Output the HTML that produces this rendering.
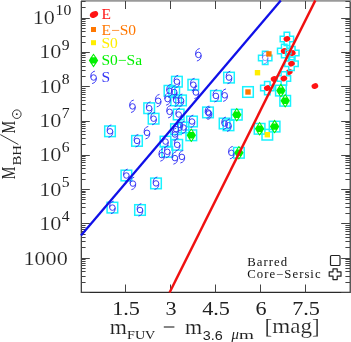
<!DOCTYPE html><html><head><meta charset="utf-8"><style>html,body{margin:0;padding:0;background:#fff}svg{display:block;will-change:transform}</style></head><body>
<svg width="351" height="342" viewBox="0 0 351 342">
<defs>
<g id="sp"><path d="M1.3 -6.4Q-3.4 -5.3 -2.75 0A2.75 2.75 0 1 0 2.75 0A2.75 2.75 0 1 0 -2.75 0M2.75 0.2Q3.1 4.9 -1.5 6.1" fill="none" stroke="#3333f5" stroke-width="0.95"/></g>
<g id="bx"><rect x="-5.3" y="-5.3" width="10.6" height="10.6" fill="none" stroke="#18f2ff" stroke-width="1.5"/></g>
<g id="cr"><path d="M-2.75 -6.7V-2.75H-6.7V2.75H-2.75V6.7H2.75V2.75H6.7V-2.75H2.75V-6.7Z" fill="none" stroke="#18f2ff" stroke-width="1.5"/></g>
<g id="re"><ellipse rx="3.4" ry="2.8" transform="rotate(-20)" fill="#ff1414"/></g>
<g id="os"><rect x="-2.7" y="-2.7" width="5.4" height="5.4" fill="#ff7700"/></g>
<g id="ys"><rect x="-2.7" y="-2.7" width="5.4" height="5.4" fill="#ffee00"/></g>
<g id="gs"><path d="M0 -7L3.2 -2.4L-3.2 -2.4Z M0 7L-3.2 2.4L3.2 2.4Z M-4.7 0L-2.6 -3.3L2.6 -3.3L4.7 0L2.6 3.3L-2.6 3.3Z" fill="#00f000"/><path d="M0 -5.2L1.35 -3.2L-1.35 -3.2Z M0 5.2L1.35 3.2L-1.35 3.2Z" fill="#fff"/></g>
</defs>
<path d="M81.3 0.9V292.4H350.2V0.9" fill="none" stroke="#2a2a2a" stroke-width="1.15"/>
<line x1="81" y1="0.9" x2="351" y2="0.9" stroke="#9a9a9a" stroke-width="1.6"/>
<path d="M81 292.50h8.8M350 292.50h-8.8M81 282.50h4.6M350 282.50h-4.6M81 276.50h4.6M350 276.50h-4.6M81 271.50h4.6M350 271.50h-4.6M81 268.50h4.6M350 268.50h-4.6M81 265.50h4.6M350 265.50h-4.6M81 263.50h4.6M350 263.50h-4.6M81 261.50h4.6M350 261.50h-4.6M81 259.50h4.6M350 259.50h-4.6M81 258.50h8.8M350 258.50h-8.8M81 247.50h4.6M350 247.50h-4.6M81 241.50h4.6M350 241.50h-4.6M81 237.50h4.6M350 237.50h-4.6M81 234.50h4.6M350 234.50h-4.6M81 231.50h4.6M350 231.50h-4.6M81 229.50h4.6M350 229.50h-4.6M81 227.50h4.6M350 227.50h-4.6M81 225.50h4.6M350 225.50h-4.6M81 223.50h8.8M350 223.50h-8.8M81 213.50h4.6M350 213.50h-4.6M81 207.50h4.6M350 207.50h-4.6M81 203.50h4.6M350 203.50h-4.6M81 199.50h4.6M350 199.50h-4.6M81 197.50h4.6M350 197.50h-4.6M81 194.50h4.6M350 194.50h-4.6M81 192.50h4.6M350 192.50h-4.6M81 191.50h4.6M350 191.50h-4.6M81 189.50h8.8M350 189.50h-8.8M81 179.50h4.6M350 179.50h-4.6M81 173.50h4.6M350 173.50h-4.6M81 168.50h4.6M350 168.50h-4.6M81 165.50h4.6M350 165.50h-4.6M81 162.50h4.6M350 162.50h-4.6M81 160.50h4.6M350 160.50h-4.6M81 158.50h4.6M350 158.50h-4.6M81 156.50h4.6M350 156.50h-4.6M81 155.50h8.8M350 155.50h-8.8M81 144.50h4.6M350 144.50h-4.6M81 138.50h4.6M350 138.50h-4.6M81 134.50h4.6M350 134.50h-4.6M81 131.50h4.6M350 131.50h-4.6M81 128.50h4.6M350 128.50h-4.6M81 126.50h4.6M350 126.50h-4.6M81 124.50h4.6M350 124.50h-4.6M81 122.50h4.6M350 122.50h-4.6M81 121.50h8.8M350 121.50h-8.8M81 110.50h4.6M350 110.50h-4.6M81 104.50h4.6M350 104.50h-4.6M81 100.50h4.6M350 100.50h-4.6M81 97.50h4.6M350 97.50h-4.6M81 94.50h4.6M350 94.50h-4.6M81 92.50h4.6M350 92.50h-4.6M81 90.50h4.6M350 90.50h-4.6M81 88.50h4.6M350 88.50h-4.6M81 86.50h8.8M350 86.50h-8.8M81 76.50h4.6M350 76.50h-4.6M81 70.50h4.6M350 70.50h-4.6M81 66.50h4.6M350 66.50h-4.6M81 62.50h4.6M350 62.50h-4.6M81 60.50h4.6M350 60.50h-4.6M81 57.50h4.6M350 57.50h-4.6M81 55.50h4.6M350 55.50h-4.6M81 53.50h4.6M350 53.50h-4.6M81 52.50h8.8M350 52.50h-8.8M81 42.50h4.6M350 42.50h-4.6M81 36.50h4.6M350 36.50h-4.6M81 31.50h4.6M350 31.50h-4.6M81 28.50h4.6M350 28.50h-4.6M81 25.50h4.6M350 25.50h-4.6M81 23.50h4.6M350 23.50h-4.6M81 21.50h4.6M350 21.50h-4.6M81 19.50h4.6M350 19.50h-4.6M81 18.50h8.8M350 18.50h-8.8M81 7.50h4.6M350 7.50h-4.6M81 1.50h4.6M350 1.50h-4.6M125.50 292.5v-8M125.50 1v8M170.50 292.5v-8M170.50 1v8M215.50 292.5v-8M215.50 1v8M260.50 292.5v-8M260.50 1v8M305.50 292.5v-8M305.50 1v8" stroke="#444" stroke-width="1" fill="none"/>
<text transform="translate(39.20,229.80) scale(1.17,1)" font-family="Liberation Serif, serif" font-size="19" fill="#222" stroke="#fff" stroke-width="0.18" >10</text>
<text transform="translate(61.80,221.00) scale(1.12,1)" font-family="Liberation Serif, serif" font-size="14" fill="#222"  >4</text>
<text transform="translate(39.20,195.50) scale(1.17,1)" font-family="Liberation Serif, serif" font-size="19" fill="#222" stroke="#fff" stroke-width="0.18" >10</text>
<text transform="translate(61.80,186.70) scale(1.12,1)" font-family="Liberation Serif, serif" font-size="14" fill="#222"  >5</text>
<text transform="translate(39.20,161.20) scale(1.17,1)" font-family="Liberation Serif, serif" font-size="19" fill="#222" stroke="#fff" stroke-width="0.18" >10</text>
<text transform="translate(61.80,152.40) scale(1.12,1)" font-family="Liberation Serif, serif" font-size="14" fill="#222"  >6</text>
<text transform="translate(39.20,126.90) scale(1.17,1)" font-family="Liberation Serif, serif" font-size="19" fill="#222" stroke="#fff" stroke-width="0.18" >10</text>
<text transform="translate(61.80,118.10) scale(1.12,1)" font-family="Liberation Serif, serif" font-size="14" fill="#222"  >7</text>
<text transform="translate(39.20,92.60) scale(1.17,1)" font-family="Liberation Serif, serif" font-size="19" fill="#222" stroke="#fff" stroke-width="0.18" >10</text>
<text transform="translate(61.80,83.80) scale(1.12,1)" font-family="Liberation Serif, serif" font-size="14" fill="#222"  >8</text>
<text transform="translate(39.20,58.30) scale(1.17,1)" font-family="Liberation Serif, serif" font-size="19" fill="#222" stroke="#fff" stroke-width="0.18" >10</text>
<text transform="translate(61.80,49.50) scale(1.12,1)" font-family="Liberation Serif, serif" font-size="14" fill="#222"  >9</text>
<text transform="translate(32.70,24.00) scale(1.17,1)" font-family="Liberation Serif, serif" font-size="19" fill="#222" stroke="#fff" stroke-width="0.18" >10</text>
<text transform="translate(55.60,14.90) scale(1.12,1)" font-family="Liberation Serif, serif" font-size="14" fill="#222"  >10</text>
<text transform="translate(23.40,264.50) scale(1.17,1)" font-family="Liberation Serif, serif" font-size="19" fill="#222" stroke="#fff" stroke-width="0.18" >1000</text>
<text transform="translate(126.00,314.7) scale(1.17,1)" font-family="Liberation Serif, serif" font-size="19" text-anchor="middle" fill="#222">1.5</text>
<text transform="translate(171.00,314.7) scale(1.17,1)" font-family="Liberation Serif, serif" font-size="19" text-anchor="middle" fill="#222">3</text>
<text transform="translate(216.00,314.7) scale(1.17,1)" font-family="Liberation Serif, serif" font-size="19" text-anchor="middle" fill="#222">4.5</text>
<text transform="translate(261.00,314.7) scale(1.17,1)" font-family="Liberation Serif, serif" font-size="19" text-anchor="middle" fill="#222">6</text>
<text transform="translate(306.00,314.7) scale(1.17,1)" font-family="Liberation Serif, serif" font-size="19" text-anchor="middle" fill="#222">7.5</text>
<use href="#bx" x="149.2" y="108.2"/>
<use href="#bx" x="153.6" y="118.7"/>
<use href="#bx" x="110" y="131.3"/>
<use href="#bx" x="137" y="140.9"/>
<use href="#bx" x="176.9" y="81.7"/>
<use href="#bx" x="193.3" y="84.7"/>
<use href="#bx" x="169.5" y="90.8"/>
<use href="#bx" x="174.2" y="92"/>
<use href="#bx" x="176.2" y="100.4"/>
<use href="#bx" x="181" y="100.4"/>
<use href="#bx" x="178.7" y="114.5"/>
<use href="#bx" x="229" y="77.6"/>
<use href="#bx" x="215.9" y="95.9"/>
<use href="#bx" x="208" y="112.4"/>
<use href="#bx" x="224.6" y="123.5"/>
<use href="#bx" x="228.5" y="125.3"/>
<use href="#bx" x="165.5" y="141.6"/>
<use href="#bx" x="177.2" y="144.8"/>
<use href="#bx" x="167.3" y="151.8"/>
<use href="#bx" x="156" y="183.4"/>
<use href="#bx" x="126.4" y="175.5"/>
<use href="#bx" x="112.4" y="207.6"/>
<use href="#bx" x="140" y="210"/>
<use href="#bx" x="192" y="121.5"/>
<use href="#bx" x="183.5" y="127.5"/>
<use href="#bx" x="176" y="129.2"/>
<use href="#cr" x="265.2" y="57.9"/>
<use href="#bx" x="280.9" y="90.6"/>
<use href="#bx" x="285.2" y="100.8"/>
<use href="#bx" x="259.6" y="128.8"/>
<use href="#bx" x="274.6" y="126.6"/>
<use href="#bx" x="236.8" y="114.7"/>
<use href="#bx" x="238.9" y="152.8"/>
<use href="#bx" x="191.3" y="135.3"/>
<use href="#bx" x="248" y="92"/>
<use href="#bx" x="267.3" y="134.7"/>
<use href="#sp" x="132.5" y="106.4"/>
<use href="#sp" x="149.2" y="108.2"/>
<use href="#sp" x="158.2" y="100.8"/>
<use href="#sp" x="153.6" y="118.7"/>
<use href="#sp" x="110" y="131.3"/>
<use href="#sp" x="147" y="132.8"/>
<use href="#sp" x="137" y="140.9"/>
<use href="#sp" x="198.4" y="54.9"/>
<use href="#sp" x="176.9" y="81.7"/>
<use href="#sp" x="193.3" y="84.7"/>
<use href="#sp" x="195.9" y="92.5"/>
<use href="#sp" x="169.5" y="90.8"/>
<use href="#sp" x="174.2" y="92"/>
<use href="#sp" x="167.6" y="99.1"/>
<use href="#sp" x="176.2" y="100.4"/>
<use href="#sp" x="181" y="100.4"/>
<use href="#sp" x="169.6" y="111.8"/>
<use href="#sp" x="178.7" y="114.5"/>
<use href="#sp" x="229" y="77.6"/>
<use href="#sp" x="215.9" y="95.9"/>
<use href="#sp" x="224.7" y="95.3"/>
<use href="#sp" x="208" y="112.4"/>
<use href="#sp" x="209" y="113.4"/>
<use href="#sp" x="224.6" y="123.5"/>
<use href="#sp" x="228.5" y="125.3"/>
<use href="#sp" x="231.4" y="152.8"/>
<use href="#sp" x="165.5" y="141.6"/>
<use href="#sp" x="177.2" y="144.8"/>
<use href="#sp" x="161.8" y="155.1"/>
<use href="#sp" x="167.3" y="151.8"/>
<use href="#sp" x="174.9" y="158.1"/>
<use href="#sp" x="181.9" y="156.9"/>
<use href="#sp" x="156" y="183.4"/>
<use href="#sp" x="126.4" y="175.5"/>
<use href="#sp" x="132.9" y="183.6"/>
<use href="#sp" x="112.4" y="207.6"/>
<use href="#sp" x="140" y="210"/>
<use href="#sp" x="192" y="121.5"/>
<use href="#sp" x="183.5" y="127.5"/>
<use href="#sp" x="176" y="129.2"/>
<use href="#sp" x="180" y="125"/>
<use href="#sp" x="175" y="134.5"/>
<use href="#sp" x="265.2" y="57.9" opacity="0.55"/>
<use href="#re" x="286.9" y="38.9"/>
<use href="#re" x="284.2" y="51"/>
<use href="#re" x="292.3" y="53.1"/>
<use href="#re" x="291.5" y="63.7"/>
<use href="#re" x="289.3" y="72"/>
<use href="#re" x="274.1" y="78.9"/>
<use href="#re" x="283.9" y="78.5"/>
<use href="#re" x="267.3" y="88.1"/>
<use href="#re" x="314.9" y="86.1"/>
<use href="#cr" x="286.9" y="38.9"/>
<use href="#cr" x="284.2" y="51"/>
<use href="#cr" x="292.3" y="53.1"/>
<use href="#cr" x="291.5" y="63.7"/>
<use href="#cr" x="283.9" y="78.5"/>
<use href="#cr" x="267.3" y="88.1"/>
<use href="#gs" x="280.9" y="90.6"/>
<use href="#gs" x="285.2" y="100.8"/>
<use href="#gs" x="259.6" y="128.8"/>
<use href="#gs" x="274.6" y="126.6"/>
<use href="#gs" x="236.8" y="114.7"/>
<use href="#gs" x="238.9" y="152.8"/>
<use href="#gs" x="191.3" y="135.3"/>
<use href="#os" x="268.9" y="53.9"/><use href="#os" x="248" y="92"/>
<use href="#ys" x="257.5" y="72.7"/><use href="#ys" x="267.3" y="134.7"/>
<line x1="81" y1="235.6" x2="280.8" y2="0.5" stroke="#1010e8" stroke-width="2.3"/>
<line x1="169.6" y1="292.5" x2="315.3" y2="0.5" stroke="#f01010" stroke-width="2.5"/>
<ellipse cx="94" cy="14.5" rx="4.4" ry="3" transform="rotate(-28 94 14.5)" fill="#ff1414"/>
<rect x="91" y="27" width="5" height="5" fill="#ff7700"/>
<rect x="91" y="40.2" width="5" height="5" fill="#ffee00"/>
<use href="#gs" x="93.5" y="60.4"/>
<use href="#sp" x="93.6" y="77.5"/>
<text transform="translate(101.40,18.50) scale(1.05,1)" font-family="Liberation Serif, serif" font-size="14.8" fill="#ff1414"  >E</text>
<text transform="translate(101.40,34.80) scale(1.05,1)" font-family="Liberation Serif, serif" font-size="14.8" fill="#ff7700"  >E−S0</text>
<text transform="translate(101.40,47.70) scale(1.05,1)" font-family="Liberation Serif, serif" font-size="14.8" fill="#ffee00"  >S0</text>
<text transform="translate(101.40,64.50) scale(1.05,1)" font-family="Liberation Serif, serif" font-size="14.8" fill="#00f000"  >S0−Sa</text>
<text transform="translate(101.40,81.60) scale(1.05,1)" font-family="Liberation Serif, serif" font-size="14.8" fill="#3333f5"  >S</text>
<text transform="translate(247.3,265.5) scale(1.08,1)" font-family="Liberation Serif, serif" font-size="11.8" fill="#111" letter-spacing="0.95">Barred</text>
<text transform="translate(247.3,278) scale(1.08,1)" font-family="Liberation Serif, serif" font-size="11.8" fill="#111" letter-spacing="0.95">Core−Sersic</text>
<rect x="330.5" y="255.5" width="9.5" height="10" rx="1" fill="none" stroke="#222" stroke-width="1.2"/>
<path d="M333 268.8V271.8H329.2V276.2H333V279.6H337.2V276.2H341V271.8H337.2V268.8Z" fill="none" stroke="#222" stroke-width="1.2" stroke-linejoin="round"/>
<text transform="translate(109.70,333.50) scale(1.0,1)" font-family="Liberation Serif, serif" font-size="22" fill="#222" stroke="#fff" stroke-width="0.18" >m</text>
<text transform="translate(127.00,339.30) scale(1.05,1)" font-family="Liberation Serif, serif" font-size="13.5" fill="#222"  >FUV</text>
<line x1="163.8" y1="327" x2="174.4" y2="327" stroke="#222" stroke-width="1.1"/>
<text transform="translate(185.00,333.50) scale(1.0,1)" font-family="Liberation Serif, serif" font-size="22" fill="#222" stroke="#fff" stroke-width="0.18" >m</text>
<text transform="translate(202.8,339.8) scale(1.2,1)" font-family="Liberation Sans, sans-serif" font-size="12" fill="#222">3.6</text>
<text transform="translate(231.5,339.3) scale(1.05,1)" font-family="Liberation Serif, serif" font-style="italic" font-size="14" fill="#222">μ</text>
<text transform="translate(239.00,339.30) scale(1.42,1)" font-family="Liberation Serif, serif" font-size="13.5" fill="#222"  >m</text>
<text transform="translate(264.50,332.50) scale(1.05,1)" font-family="Liberation Serif, serif" font-size="22" fill="#222" stroke="#fff" stroke-width="0.18" >[mag]</text>
<text transform="translate(15.00,179.20) rotate(-90) scale(0.75,1)" font-family="Liberation Serif, serif" font-size="19" fill="#222">M</text>
<text transform="translate(21.20,165.60) rotate(-90) scale(1.12,1)" font-family="Liberation Serif, serif" font-size="13.2" fill="#222">BH</text>
<line x1="18.4" y1="144.5" x2="0.3" y2="134.6" stroke="#222" stroke-width="0.9"/>
<text transform="translate(14.70,133.60) rotate(-90) scale(0.75,1)" font-family="Liberation Serif, serif" font-size="19" fill="#222">M</text>
<circle cx="16.8" cy="114.2" r="4.3" fill="none" stroke="#222" stroke-width="0.9"/><circle cx="16.8" cy="114.2" r="0.9" fill="#222"/>
</svg></body></html>
